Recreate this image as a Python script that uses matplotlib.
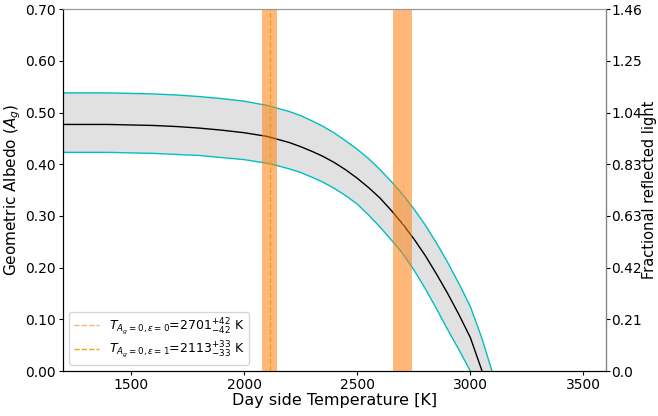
import numpy as np
import matplotlib
matplotlib.use('Agg')
import matplotlib.pyplot as plt

# values
temp_mid = [1200, 1300, 1400, 1500, 1600, 1700, 1800, 1900, 2000, 2100,
            2150, 2200, 2250, 2300, 2350, 2400, 2450, 2500, 2550, 2600,
            2650, 2700, 2750, 2800, 2850, 2900, 2950, 3000, 3052]
albedo_mid = [0.477, 0.477, 0.477, 0.476, 0.475, 0.473, 0.470, 0.466, 0.461, 0.454,
              0.448, 0.442, 0.434, 0.425, 0.415, 0.403, 0.389, 0.373, 0.355, 0.335,
              0.311, 0.285, 0.256, 0.224, 0.188, 0.150, 0.109, 0.065, 0.0]

temp_up = [1200, 1300, 1400, 1500, 1600, 1700, 1800, 1900, 2000, 2100,
           2150, 2200, 2250, 2300, 2350, 2400, 2450, 2500, 2550, 2600,
           2650, 2700, 2750, 2800, 2850, 2900, 2950, 3000, 3050, 3096]
albedo_up = [0.538, 0.538, 0.538, 0.537, 0.536, 0.534, 0.531, 0.527, 0.522, 0.514,
             0.508, 0.502, 0.494, 0.484, 0.473, 0.460, 0.445, 0.429, 0.411, 0.390,
             0.367, 0.342, 0.314, 0.283, 0.248, 0.210, 0.169, 0.125, 0.065, 0.0]

temp_low = [1200, 1300, 1400, 1500, 1600, 1700, 1800, 1900, 2000, 2100,
            2150, 2200, 2250, 2300, 2350, 2400, 2450, 2500, 2550, 2600,
            2650, 2700, 2750, 2800, 2850, 2900, 2950, 3000]
albedo_low = [0.423, 0.423, 0.423, 0.422, 0.421, 0.419, 0.417, 0.413, 0.409, 0.402,
              0.397, 0.391, 0.384, 0.375, 0.365, 0.353, 0.339, 0.323, 0.302, 0.279,
              0.254, 0.228, 0.196, 0.160, 0.121, 0.080, 0.041, 0.0]

# zero-albedo temperatures with errors
t_eps0, err_eps0 = 2701, 42
t_eps1, err_eps1 = 2113, 33

left_ticks = [0.0, 0.1, 0.2, 0.3, 0.4, 0.5, 0.6, 0.7]
right_labels = ['0.0', '0.21', '0.42', '0.63', '0.83', '1.04', '1.25', '1.46']

fig = plt.figure(figsize=(6.58, 4.16), dpi=100)
ax = fig.add_axes([0.096, 0.108, 0.825, 0.87])

# uncertainty band
ax.fill(np.r_[temp_up, temp_low[::-1]], np.r_[albedo_up, albedo_low[::-1]],
        color='#e1e1e1', lw=0, zorder=1)
ax.plot(temp_up, albedo_up, color='c', lw=1, zorder=2)
ax.plot(temp_low, albedo_low, color='c', lw=1, zorder=2)
ax.plot(temp_mid, albedo_mid, color='k', lw=1, zorder=3)

# zero albedo temperatures
ax.axvspan(t_eps0 - err_eps0, t_eps0 + err_eps0, color='tab:orange', alpha=0.55, lw=0, zorder=4)
ax.axvspan(t_eps1 - err_eps1, t_eps1 + err_eps1, color='tab:orange', alpha=0.55, lw=0, zorder=4)
ax.axvline(t_eps0, color='#f5b27a', ls='--', lw=1, zorder=5,
           label=r'$T_{A_g=0,\varepsilon=0}$=2701$^{+42}_{-42}$ K')
ax.axvline(t_eps1, color='#f0a010', ls='--', lw=1, zorder=5,
           label=r'$T_{A_g=0,\varepsilon=1}$=2113$^{+33}_{-33}$ K')

ax.set_xlim(1200, 3600)
ax.set_ylim(0, 0.7)
ax.set_yticks(left_ticks)
ax.set_yticklabels(['%.2f' % v for v in left_ticks])
ax.set_xticks([1500, 2000, 2500, 3000, 3500])
ax.tick_params(labelsize=10, length=3, pad=2)
ax.set_xlabel('Day side Temperature [K]', fontsize=11.5, labelpad=1)
ax.set_ylabel('Geometric Albedo ($A_g$)', fontsize=11, labelpad=2)
ax.spines['top'].set_color('0.6')

ax2 = ax.twinx()
ax2.set_ylim(0, 0.7)
ax2.set_yticks(left_ticks)
ax2.set_yticklabels(right_labels)
ax2.tick_params(labelsize=10, length=3, pad=1, colors='k')
ax2.spines['right'].set_color('0.5')
ax2.spines['top'].set_color('0.6')
ax2.set_ylabel('Fractional reflected light', fontsize=10.5, labelpad=0)

ax.legend(loc='lower left', fontsize=9, framealpha=0.8, labelspacing=0.25, borderpad=0.35)

fig.savefig('out.png', dpi=100)
